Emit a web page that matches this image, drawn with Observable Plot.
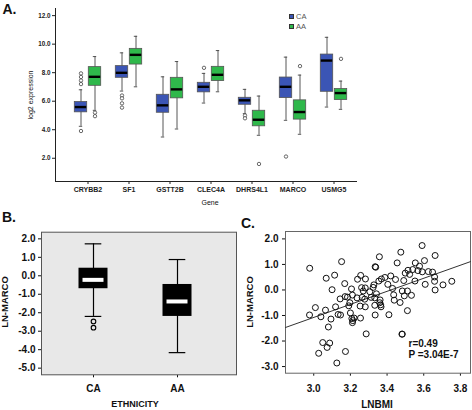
<!DOCTYPE html>
<html><head><meta charset="utf-8">
<script src="https://cdn.jsdelivr.net/npm/d3@7"></script>
<script src="https://cdn.jsdelivr.net/npm/@observablehq/plot@0.6"></script>
<style>
html,body{margin:0;padding:0;background:#fff;}
#wrap{position:relative;width:472px;height:410px;overflow:hidden;font-family:"Liberation Sans",Arial,sans-serif;color:#111;}
.panel{position:absolute;}
.lbl{position:absolute;white-space:nowrap;line-height:1;}
.rot{transform:translate(-50%,-50%) rotate(-90deg);}
.ctr{transform:translate(-50%,-50%);}
.sw{position:absolute;width:5px;height:5px;border:0.8px solid #333;box-sizing:border-box;}
#pA g[aria-label="y-axis tick label"]{font-size:6.3px;}
</style></head><body><div id="wrap"></div>
<script>
// ---------- Panel A data ----------
const genes = ["CRYBB2","SF1","GSTT2B","CLEC4A","DHRS4L1","MARCO","USMG5"];
const caWhiskerLow  = [4.24, 6.71, 3.49, 5.87, 5.13, 4.66, 5.59];
const caQ1          = [5.22, 7.64, 5.19, 6.62, 5.75, 6.22, 6.66];
const caMedian      = [5.59, 7.99, 5.71, 7.01, 6.06, 7.01, 8.85];
const caQ3          = [5.94, 8.46, 6.45, 7.29, 6.24, 7.66, 9.27];
const caWhiskerHigh = [6.80, 9.39, 7.71, 7.95, 6.83, 9.09, 10.48];
const aaWhiskerLow  = [5.36, 7.01, 4.05, 6.66, 3.61, 3.68, 5.43];
const aaQ1          = [7.08, 8.57, 6.20, 7.41, 4.24, 4.71, 6.08];
const aaMedian      = [7.71, 9.25, 6.83, 7.85, 4.70, 5.24, 6.57];
const aaQ3          = [8.39, 9.67, 7.64, 8.41, 5.33, 6.06, 6.85];
const aaWhiskerHigh = [9.13, 10.55, 8.78, 9.55, 6.36, 7.83, 7.41];
const caOutlierGene  = ["CRYBB2","CRYBB2","CRYBB2","CRYBB2","CRYBB2","SF1","SF1","SF1","SF1","CLEC4A","DHRS4L1","DHRS4L1","MARCO"];
const caOutlierValue = [3.91, 7.2, 7.45, 7.7, 7.95, 6.4, 6.2, 5.85, 5.55, 8.34, 5.0, 4.8, 2.12];
const aaOutlierGene  = ["CRYBB2","CRYBB2","DHRS4L1","MARCO","USMG5"];
const aaOutlierValue = [5.2, 4.95, 1.6, 8.46, 8.97];
const groupNames = ["CA","AA"];
const groupColors = ["#3b55b5","#2fb84b"];
const yTicksA = [2,4,6,8,10,12];

// ---------- Panel B data ----------
const ethnicity = ["CA","AA"];
const bWhiskerLow  = [-2.20, -4.16];
const bQ1          = [-0.70, -2.20];
const bMedian      = [-0.22, -1.39];
const bQ3          = [0.41, -0.47];
const bWhiskerHigh = [1.73, 0.88];
const bOutlierGroup = ["CA","CA"];
const bOutlierValue = [-2.47, -2.81];
const yTicksB = [-5,-4,-3,-2,-1,0,1,2];

// ---------- Panel C data ----------
const lnbmi = [2.978,2.977,3.009,3.039,3.064,3.068,3.100,3.114,3.094,3.080,3.049,3.087,3.073,3.027,3.126,3.173,3.152,3.119,3.133,3.146,3.144,3.169,3.171,3.184,3.191,3.197,3.200,
  3.206,3.211,3.208,3.213,3.211,3.220,3.239,3.236,3.256,3.261,3.264,3.253,3.255,3.270,3.282,3.281,3.278,3.281,3.286,3.306,3.313,3.324,3.328,3.333,3.335,3.338,3.333,3.335,3.342,3.358,3.355,3.362,3.360,3.365,3.367,3.369,
  3.388,3.404,3.410,3.420,3.430,3.436,3.439,3.446,3.455,3.471,3.475,3.483,3.481,3.483,3.494,3.491,3.499,3.511,3.514,3.511,3.523,3.533,3.540,3.552,3.554,3.568,3.577,3.592,3.591,3.604,3.608,3.625,3.648,3.659,3.659,3.662,3.662,3.705,3.753];
const lnMarco = [0.85,-0.98,-0.69,-1.05,-0.79,0.46,0.01,0.58,-1.14,-1.45,-2.06,-2.08,-2.25,-2.48,-2.86,-2.41,1.11,-0.66,-0.96,-0.98,-0.35,0.25,-0.26,-0.28,-0.62,-0.50,-0.90,
  0.04,-0.20,-1.12,-1.20,-1.28,-1.10,0.42,-0.31,0.57,0.09,-0.29,-0.63,-1.10,-0.04,0.43,0.08,-0.36,-0.66,-1.72,-0.07,-0.29,0.10,0.20,-0.31,0.91,0.89,-0.60,-0.98,-0.15,1.30,0.35,-0.39,-0.50,-0.58,-0.66,0.43,
  0.49,0.22,-0.97,0.55,0.06,-0.19,-0.40,0.41,1.06,-0.49,1.48,-0.04,-1.73,-1.73,-0.23,0.37,0.66,-0.04,0.77,-0.81,0.61,-0.21,0.80,0.35,1.06,0.76,0.93,0.71,1.74,1.15,0.22,0.72,0.70,0.51,0.34,0.00,1.35,0.20,0.34];
const fitIntercept = -8.747, fitSlope = 2.557;
const xDomainC = [2.846, 3.855];
const xTicksC = [3.0,3.2,3.4,3.6,3.8];
const yTicksC = [-3,-2,-1,0,1,2];
const statLabels = ["r=0.49","P =3.04E-7"];

const fmt1 = d => d.toFixed(1);
const wrap = document.getElementById("wrap");
function place(node, left, top, w, id){
  const d = document.createElement("div"); d.className="panel"; d.style.left=left+"px"; d.style.top=top+"px"; d.style.width=w+"px";
  if(id) d.id=id; d.appendChild(node); wrap.appendChild(d);
}
function label(text, x, y, css, cls){
  const s=document.createElement("div"); s.className="lbl "+(cls||"ctr"); s.textContent=text;
  s.style.left=x+"px"; s.style.top=y+"px"; s.style.cssText+=css; wrap.appendChild(s);
}

// ---------- Panel A ----------
const rowsCA = genes.map((g,i)=>({gene:g, lo:caWhiskerLow[i], q1:caQ1[i], med:caMedian[i], q3:caQ3[i], hi:caWhiskerHigh[i]}));
const rowsAA = genes.map((g,i)=>({gene:g, lo:aaWhiskerLow[i], q1:aaQ1[i], med:aaMedian[i], q3:aaQ3[i], hi:aaWhiskerHigh[i]}));
const outCA = caOutlierGene.map((g,i)=>({gene:g, v:caOutlierValue[i]}));
const outAA = aaOutlierGene.map((g,i)=>({gene:g, v:aaOutlierValue[i]}));
function groupMarks(rows, outs, color, left){
  const bi = left ? {insetLeft:7.3, insetRight:21.3} : {insetLeft:21.3, insetRight:7.3};
  const ci = left ? {insetLeft:11.8, insetRight:25.8} : {insetLeft:25.8, insetRight:11.8};
  const dx = left ? -7 : 7;
  return [
    Plot.ruleX(rows, {x:"gene", y1:"lo", y2:"hi", dx, stroke:"#444", strokeWidth:0.9}),
    Plot.tickY(rows, {x:"gene", y:"lo", ...ci, stroke:"#444", strokeWidth:0.9}),
    Plot.tickY(rows, {x:"gene", y:"hi", ...ci, stroke:"#444", strokeWidth:0.9}),
    Plot.barY(rows, {x:"gene", y1:"q1", y2:"q3", ...bi, fill:color, stroke:"#555", strokeWidth:0.8}),
    Plot.tickY(rows, {x:"gene", y:"med", insetLeft:bi.insetLeft+0.5, insetRight:bi.insetRight+0.5, stroke:"#000", strokeWidth:2.4}),
    Plot.dot(outs, {x:"gene", y:"v", dx, r:1.7, fill:"white", stroke:"#444", strokeWidth:0.8})
  ];
}
const plotA = Plot.plot({
  width:472, height:210, marginLeft:55, marginRight:116, marginTop:8, marginBottom:29,
  style:{fontFamily:"Liberation Sans, Arial, sans-serif", fontSize:"7px", fontWeight:"bold", background:"transparent", color:"#222", overflow:"visible"},
  x:{domain:genes, range:[64.2,355.8], padding:0, tickSize:3, tickPadding:3, line:true, label:null},
  y:{domain:[0.37,12.5], ticks:yTicksA, tickFormat:fmt1, tickSize:3, tickPadding:2, line:true, label:null},
  marks:[...groupMarks(rowsCA,outCA,groupColors[0],true), ...groupMarks(rowsAA,outAA,groupColors[1],false)]
});
place(plotA, 0, 0, 472, "pA");
label("A.", 9.5, 8.5, "font-size:14px;font-weight:bold;");
label("log2 expression", 30, 94.5, "font-size:7px;", "rot");
label("Gene", 210, 201.5, "font-size:7px;");
groupNames.forEach((g,i)=>{
  const sq=document.createElement("div"); sq.className="sw"; sq.style.left="288.7px"; sq.style.top=(14+i*10)+"px"; sq.style.background=groupColors[i]; wrap.appendChild(sq);
  label(g, 296, 16.5+i*10, "font-size:7.5px;color:#555;transform:translate(0,-50%);", "");
});

// ---------- Panel B ----------
const rowsB = ethnicity.map((g,i)=>({g, lo:bWhiskerLow[i], q1:bQ1[i], med:bMedian[i], q3:bQ3[i], hi:bWhiskerHigh[i]}));
const outB = bOutlierGroup.map((g,i)=>({g, v:bOutlierValue[i]}));
const plotB = Plot.plot({
  width:240, height:220, marginLeft:41, marginRight:4, marginTop:41.7, marginBottom:35.7,
  style:{fontFamily:"Liberation Sans, Arial, sans-serif", fontSize:"10px", fontWeight:"bold", background:"transparent", color:"#111", overflow:"visible"},
  x:{domain:ethnicity, range:[50,219], padding:0, tickSize:3, tickPadding:7.5, label:null},
  y:{domain:[-5.36,2.36], ticks:yTicksB, tickFormat:fmt1, tickSize:3, tickPadding:3, label:null},
  marks:[
    Plot.frame({fill:"#e8e8e8", stroke:"#555"}),
    Plot.ruleX(rowsB, {x:"g", y1:"lo", y2:"hi", stroke:"#000", strokeWidth:1.2}),
    Plot.tickY(rowsB, {x:"g", y:"lo", insetLeft:33.7, insetRight:33.7, stroke:"#000", strokeWidth:1.2}),
    Plot.tickY(rowsB, {x:"g", y:"hi", insetLeft:33.7, insetRight:33.7, stroke:"#000", strokeWidth:1.2}),
    Plot.barY(rowsB, {x:"g", y1:"q1", y2:"q3", insetLeft:27.5, insetRight:27.5, fill:"#000"}),
    Plot.tickY(rowsB, {x:"g", y:"med", insetLeft:31.5, insetRight:31.5, stroke:"#fff", strokeWidth:4}),
    Plot.dot(outB, {x:"g", y:"v", r:2.3, fill:"none", stroke:"#000", strokeWidth:1.1})
  ]
});
place(plotB, 0, 190, 240, "pB");
label("B.", 9, 216.5, "font-size:14px;font-weight:bold;");
label("LN-MARCO", 5, 301.7, "font-size:9.5px;font-weight:bold;", "rot");
label("ETHNICITY", 135, 404, "font-size:9px;font-weight:bold;");

// ---------- Panel C ----------
const pts = lnbmi.map((x,i)=>({x, y:lnMarco[i]}));
const fitLine = xDomainC.map(x=>({x, y:fitIntercept+fitSlope*x}));
const plotC = Plot.plot({
  width:232, height:220, marginLeft:45, marginRight:2, marginTop:41, marginBottom:37.3,
  style:{fontFamily:"Liberation Sans, Arial, sans-serif", fontSize:"10px", fontWeight:"bold", background:"transparent", color:"#111", overflow:"visible"},
  x:{domain:xDomainC, ticks:xTicksC, tickFormat:fmt1, tickSize:3, tickPadding:9, label:null},
  y:{domain:[-3.26,2.29], ticks:yTicksC, tickFormat:fmt1, tickSize:3, tickPadding:4, label:null},
  marks:[
    Plot.frame({fill:"white", stroke:"#666"}),
    Plot.line(fitLine, {x:"x", y:"y", stroke:"#333", strokeWidth:1}),
    Plot.dot(pts, {x:"x", y:"y", r:3, fill:"none", stroke:"#111", strokeWidth:1}),
    Plot.text([statLabels[0]], {text:d=>d, frameAnchor:"bottom-right", textAnchor:"start", dx:-62, dy:-26, fontSize:10, fill:"#111"}),
    Plot.text([statLabels[1]], {text:d=>d, frameAnchor:"bottom-right", textAnchor:"start", dx:-62, dy:-15, fontSize:10, fill:"#111"})
  ]
});
place(plotC, 240, 190, 232, "pC");
label("C.", 248, 223, "font-size:14px;font-weight:bold;");
label("LN-MARCO", 250, 301.7, "font-size:9.5px;font-weight:bold;", "rot");
label("LNBMI", 377, 405, "font-size:10px;font-weight:bold;");
</script></body></html>
